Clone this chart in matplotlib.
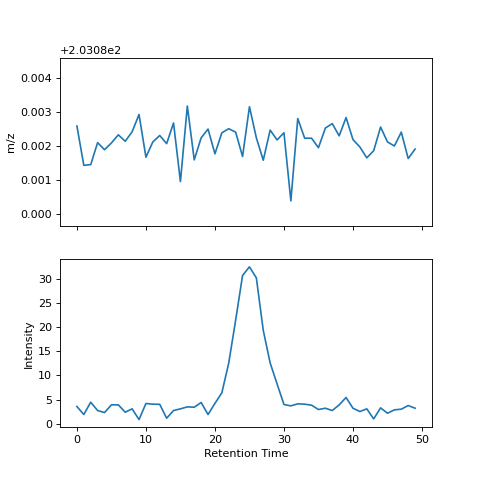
import matplotlib
matplotlib.use("Agg")
import matplotlib.pyplot as plt
import numpy as np

retention_time = list(range(50))
mz_base = 203.08
mz_delta = [0.00259, 0.00143, 0.00145, 0.00210, 0.00189, 0.00209, 0.00233, 0.00214, 0.00242, 0.00293,
            0.00167, 0.00212, 0.00231, 0.00207, 0.00268, 0.00095, 0.00318, 0.00159, 0.00224, 0.00250,
            0.00177, 0.00239, 0.00251, 0.00241, 0.00169, 0.00316, 0.00224, 0.00158, 0.00247, 0.00218,
            0.00239, 0.00038, 0.00281, 0.00223, 0.00223, 0.00195, 0.00253, 0.00266, 0.00230, 0.00284,
            0.00219, 0.00197, 0.00165, 0.00186, 0.00256, 0.00212, 0.00200, 0.00241, 0.00163, 0.00191]
intensity = [3.54, 1.88, 4.44, 2.71, 2.29, 3.89, 3.89, 2.36, 3.06, 0.83,
             4.17, 4.03, 4.00, 1.11, 2.71, 3.06, 3.47, 3.40, 4.38, 1.88,
             4.20, 6.39, 12.6, 21.5, 30.8, 32.6, 30.3, 19.4, 12.6, 8.26,
             3.96, 3.68, 4.10, 4.03, 3.82, 2.92, 3.19, 2.71, 3.89, 5.42,
             3.19, 2.50, 3.06, 0.97, 3.26, 2.15, 2.85, 2.99, 3.75, 3.19]

mz = np.array(mz_delta) + mz_base

fig, (ax1, ax2) = plt.subplots(2, 1, sharex=True, figsize=(6, 6), dpi=80)
ax1.plot(retention_time, mz)
ax1.set_ylabel("m/z")
ax1.set_ylim(mz_base - 0.00035, mz_base + 0.00461)
ax2.plot(retention_time, intensity)
ax2.set_ylabel("Intensity")
ax2.set_xlabel("Retention Time")
fig.savefig("out.png", dpi=80)
